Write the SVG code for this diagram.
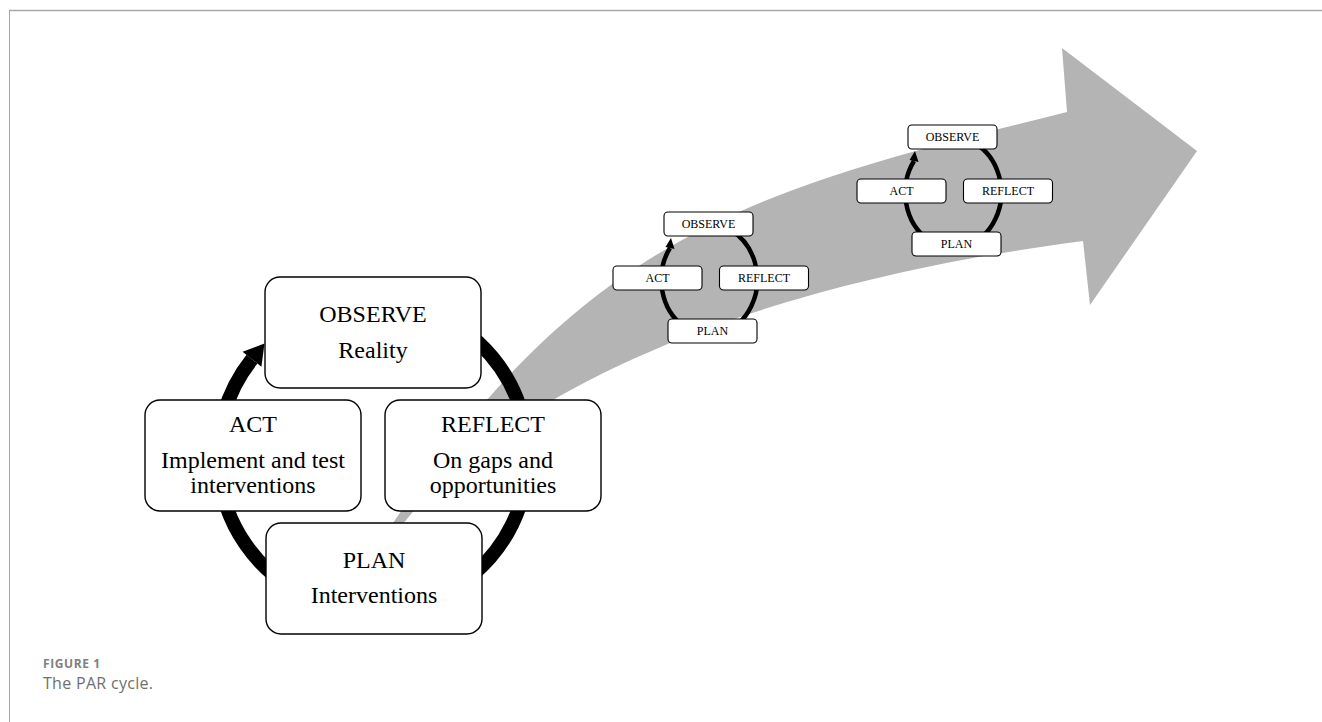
<svg xmlns="http://www.w3.org/2000/svg" width="1322" height="722" viewBox="0 0 1322 722">
<style>
.frame{stroke:#a8a8a8;fill:none}
.big{fill:#fff;stroke:#000;stroke-width:1.4}
.sm{fill:#fff;stroke:#000;stroke-width:1.1}
.bt{font-family:"Liberation Serif",serif;font-size:24px;fill:#000;text-anchor:middle}
.st{font-family:"Liberation Serif",serif;font-size:12px;fill:#000;text-anchor:middle}
.ring{fill:none;stroke:#000}
.cap1{font-family:"Open Sans","Liberation Sans",sans-serif;font-size:12px;font-weight:bold;fill:#808080;letter-spacing:0.6px}
.cap2{font-family:"Open Sans","Liberation Sans",sans-serif;font-size:16px;fill:#6f6f6f;letter-spacing:0.3px}
</style>
<rect width="1322" height="722" fill="#fff"/>
<line class="frame" x1="9" y1="10.5" x2="1322" y2="10.5" stroke-width="1.6"/>
<line class="frame" x1="9.5" y1="10" x2="9.5" y2="722" stroke="#8a8a8a"/>

<g id="progress-arrow">
<path d="M 385 535 C 583 236, 747 191, 1067 112 L 1062 48 L 1197 151 L 1090 305 L 1083 241 C 690 292, 480 420, 400 528 Z" fill="#b4b4b4"/>
</g>

<g id="connectors">
<path class="ring" stroke-width="14" d="M 426 310.4 A 155 155 0 1 1 252 359.2"/>
<polygon points="242.6,351.7 264.5,343.6 261.4,366.7" fill="#000"/>
<path class="ring" stroke-width="4.5" d="M 730 230 A 48 55 0 1 1 670 248"/>
<polygon points="665.5,247 671,238 674.5,249" fill="#000"/>
<g transform="translate(244,-87)">
<path class="ring" stroke-width="4.5" d="M 730 230 A 48 55 0 1 1 670 248"/>
<polygon points="665.5,247 671,238 674.5,249" fill="#000"/>
</g>
</g>

<g id="observe">
<rect class="big" x="265" y="277" width="216" height="111" rx="15"/>
<text class="bt" x="373" y="322">OBSERVE</text>
<text class="bt" x="373" y="358">Reality</text>
</g>
<g id="act">
<rect class="big" x="145" y="400" width="216" height="111" rx="15"/>
<text class="bt" x="253" y="432">ACT</text>
<text class="bt" x="253" y="468">Implement and test</text>
<text class="bt" x="253" y="493">interventions</text>
</g>
<g id="reflect">
<rect class="big" x="385" y="400" width="216" height="111" rx="15"/>
<text class="bt" x="493" y="432">REFLECT</text>
<text class="bt" x="493" y="468">On gaps and</text>
<text class="bt" x="493" y="493">opportunities</text>
</g>
<g id="plan">
<rect class="big" x="266" y="523" width="216" height="111" rx="15"/>
<text class="bt" x="374" y="568">PLAN</text>
<text class="bt" x="374" y="603">Interventions</text>
</g>

<g id="cycle1-observe"><rect class="sm" x="664" y="212" width="89" height="24" rx="4"/><text class="st" x="708.5" y="228">OBSERVE</text></g>
<g id="cycle1-act"><rect class="sm" x="613" y="266" width="89" height="24" rx="4"/><text class="st" x="657.5" y="282">ACT</text></g>
<g id="cycle1-reflect"><rect class="sm" x="719.5" y="266" width="89" height="24" rx="4"/><text class="st" x="764" y="282">REFLECT</text></g>
<g id="cycle1-plan"><rect class="sm" x="668" y="319" width="89" height="24" rx="4"/><text class="st" x="712.5" y="335">PLAN</text></g>

<g id="cycle2-observe"><rect class="sm" x="908" y="125" width="89" height="24" rx="4"/><text class="st" x="952.5" y="141">OBSERVE</text></g>
<g id="cycle2-act"><rect class="sm" x="857" y="179" width="89" height="24" rx="4"/><text class="st" x="901.5" y="195">ACT</text></g>
<g id="cycle2-reflect"><rect class="sm" x="963.5" y="179" width="89" height="24" rx="4"/><text class="st" x="1008" y="195">REFLECT</text></g>
<g id="cycle2-plan"><rect class="sm" x="912" y="232" width="89" height="24" rx="4"/><text class="st" x="956.5" y="248">PLAN</text></g>

<g id="caption">
<text class="cap1" x="43" y="668">FIGURE 1</text>
<text class="cap2" x="43" y="689">The PAR cycle.</text>
</g>
</svg>
